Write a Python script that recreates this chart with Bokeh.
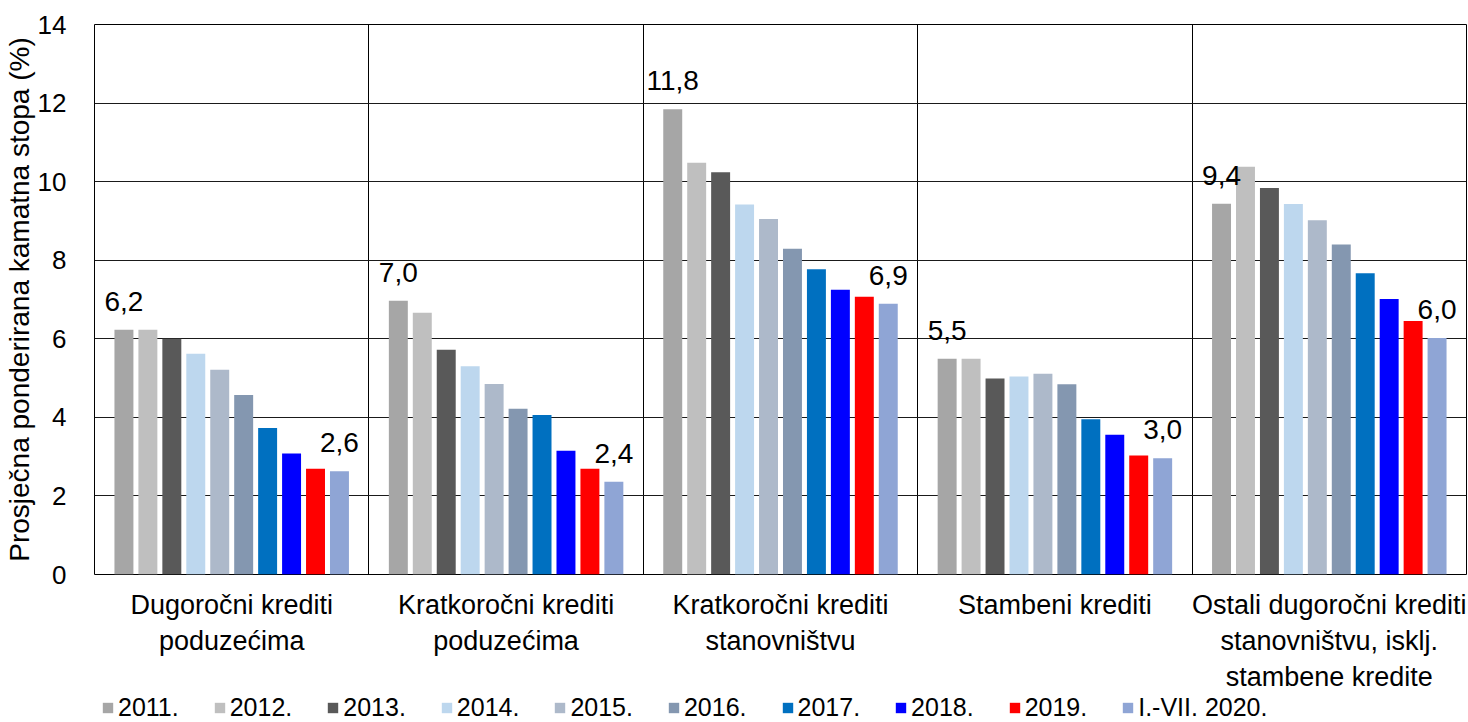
from bokeh.plotting import figure
from bokeh.layouts import column
from bokeh.models import ColumnDataSource, FixedTicker, Legend, LegendItem, LabelSet, Range1d
from bokeh.core.properties import value
from bokeh.embed import file_html
from bokeh.resources import INLINE

categories = [
    "Dugoročni krediti\npoduzećima",
    "Kratkoročni krediti\npoduzećima",
    "Kratkoročni krediti\nstanovništvu",
    "Stambeni krediti",
    "Ostali dugoročni krediti\nstanovništvu, isklj.\nstambene kredite",
]
series_names = ["2011.", "2012.", "2013.", "2014.", "2015.", "2016.", "2017.", "2018.", "2019.", "I.-VII. 2020."]
colors = ["#A6A6A6", "#BFBFBF", "#595959", "#BDD7EE", "#ADB9CA", "#8497B0", "#0070C0", "#0000FF", "#FF0000", "#8FA5D5"]

v2011 = [6.23, 6.97, 11.84, 5.49, 9.44]
v2012 = [6.23, 6.66, 10.48, 5.49, 10.38]
v2013 = [6.00, 5.72, 10.24, 4.99, 9.84]
v2014 = [5.62, 5.30, 9.42, 5.04, 9.43]
v2015 = [5.21, 4.85, 9.05, 5.11, 9.02]
v2016 = [4.57, 4.22, 8.29, 4.84, 8.40]
v2017 = [3.73, 4.06, 7.77, 3.95, 7.67]
v2018 = [3.08, 3.15, 7.25, 3.56, 7.01]
v2019 = [2.69, 2.69, 7.07, 3.03, 6.45]
v2020 = [2.63, 2.36, 6.89, 2.96, 6.02]
series_values = [v2011, v2012, v2013, v2014, v2015, v2016, v2017, v2018, v2019, v2020]

FONT = "Liberation Sans"
n_cat = len(categories)
n_ser = len(series_names)
step = 24.0 / 275.0
bar_w = 19.0 / 275.0

p = figure(width=1468, height=694, output_backend="svg", toolbar_location=None,
           x_range=Range1d(-0.5, n_cat - 0.5), y_range=Range1d(0, 14))
p.min_border_left = 90
p.min_border_right = 2
p.min_border_top = 24
p.min_border_bottom = 120
p.outline_line_color = "black"
p.outline_line_width = 1

for j, (name, vals, col) in enumerate(zip(series_names, series_values, colors)):
    xs = [i + (j - (n_ser - 1) / 2) * step for i in range(n_cat)]
    src = ColumnDataSource(dict(x=xs, top=vals))
    p.vbar(x="x", top="top", width=bar_w, source=src, fill_color=col, line_color=None)

# data labels for first and last series
lab_x, lab_y, lab_t = [], [], []
for j in (0, n_ser - 1):
    for i in range(n_cat):
        lab_x.append(i + (j - (n_ser - 1) / 2) * step)
        lab_y.append(series_values[j][i])
        lab_t.append(f"{series_values[j][i]:.1f}".replace(".", ","))
lsrc = ColumnDataSource(dict(x=lab_x, y=lab_y, t=lab_t))
labels = LabelSet(x="x", y="y", text="t", source=lsrc, text_align="center",
                  text_baseline="alphabetic", y_offset=19, text_font=value(FONT),
                  text_font_size="28px", text_color="black")
p.add_layout(labels)

# axes
p.yaxis.ticker = FixedTicker(ticks=[0, 2, 4, 6, 8, 10, 12, 14])
p.yaxis.axis_label = "Prosječna ponderirana kamatna stopa (%)"
p.yaxis.axis_label_text_font = FONT
p.yaxis.axis_label_text_font_size = "28px"
p.yaxis.axis_label_text_font_style = "normal"
p.yaxis.axis_label_text_color = "black"
p.yaxis.axis_label_standoff = 0
p.yaxis.major_label_text_font = FONT
p.yaxis.major_label_text_font_size = "26px"
p.yaxis.major_label_text_color = "black"
p.yaxis.major_label_standoff = 22
p.yaxis.major_tick_line_color = None
p.yaxis.minor_tick_line_color = None
p.yaxis.axis_line_color = None

p.xaxis.ticker = FixedTicker(ticks=list(range(n_cat)))
p.xaxis.major_label_overrides = {i: c for i, c in enumerate(categories)}
p.xaxis.major_label_text_font = FONT
p.xaxis.major_label_text_font_size = "27px"
p.xaxis.major_label_text_color = "black"
p.xaxis.major_label_standoff = 9
p.xaxis.major_tick_line_color = None
p.xaxis.minor_tick_line_color = None
p.xaxis.axis_line_color = None

p.ygrid.ticker = FixedTicker(ticks=[2, 4, 6, 8, 10, 12])
p.ygrid.grid_line_color = "#1a1a1a"
p.ygrid.grid_line_width = 1
p.xgrid.ticker = FixedTicker(ticks=[i + 0.5 for i in range(n_cat - 1)])
p.xgrid.grid_line_color = "black"
p.xgrid.grid_line_width = 1

# legend strip (separate figure holding zero-height legend swatch glyphs)
lg = figure(width=1468, height=28, output_backend="svg", toolbar_location=None,
            x_range=Range1d(0, 1), y_range=Range1d(0, 1))
lg.axis.visible = False
lg.grid.visible = False
lg.outline_line_color = None
lg.min_border_left = 0
lg.min_border_right = 0
lg.min_border_top = 0
lg.min_border_bottom = 0
items = []
for name, col in zip(series_names, colors):
    r = lg.vbar(x=[0.5], top=[0], bottom=[0], width=0.01, fill_color=col, line_color=None)
    items.append(LegendItem(label=name, renderers=[r]))
legend = Legend(items=items, orientation="horizontal", location=(7, 0),
                label_text_font=FONT, label_text_font_size="25px", label_text_color="black",
                label_height=26, glyph_width=13, glyph_height=13,
                label_standoff=4, spacing=34,
                padding=0, margin=0, border_line_color=None, background_fill_alpha=0)
lg.add_layout(legend)

layout = column(p, lg, spacing=0)
open("out.html", "w").write(file_html(layout, INLINE))
